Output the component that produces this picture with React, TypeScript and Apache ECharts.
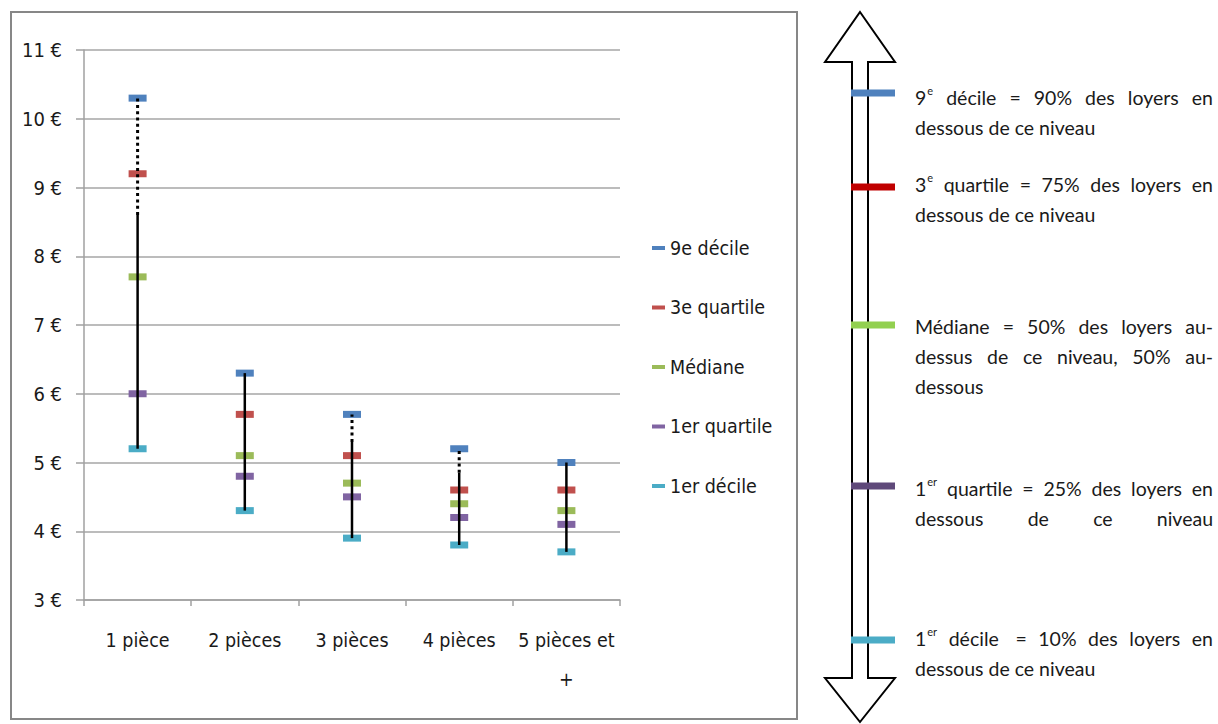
import React, { useEffect, useRef } from 'react';
import * as echarts from 'echarts';

// Loyers au m² par taille de logement
const categories = ['1 pièce', '2 pièces', '3 pièces', '4 pièces', '5 pièces et\n+'];
const decile9 = [10.3, 6.3, 5.7, 5.2, 5.0];
const quartile3 = [9.2, 5.7, 5.1, 4.6, 4.6];
const mediane = [7.7, 5.1, 4.7, 4.4, 4.3];
const quartile1 = [6.0, 4.8, 4.5, 4.2, 4.1];
const decile1 = [5.2, 4.3, 3.9, 3.8, 3.7];
// value where the solid range line stops and the dotted part starts
const solidTop = [8.6, 6.3, 5.3, 4.85, 5.0];

const seriesNames = ['9e décile', '3e quartile', 'Médiane', '1er quartile', '1er décile'];
const seriesValues = [decile9, quartile3, mediane, quartile1, decile1];
const seriesColors = ['#4F81BD', '#C0504D', '#9BBB59', '#8064A2', '#4BACC6'];

// Explanatory panel: a word is either plain text or [base, superscript]
type Word = string | [string, string];
type NoteLine = { words: Word[]; justify: boolean };
const noteColors = ['#4F81BD', '#C00000', '#92D050', '#5F497A', '#4BACC6'];
const notes: NoteLine[][] = [
  [
    { words: [['9', 'e'], 'décile', '=', '90%', 'des', 'loyers', 'en'], justify: true },
    { words: ['dessous', 'de', 'ce', 'niveau'], justify: false },
  ],
  [
    { words: [['3', 'e'], 'quartile', '=', '75%', 'des', 'loyers', 'en'], justify: true },
    { words: ['dessous', 'de', 'ce', 'niveau'], justify: false },
  ],
  [
    { words: ['Médiane', '=', '50%', 'des', 'loyers', 'au-'], justify: true },
    { words: ['dessus', 'de', 'ce', 'niveau,', '50%', 'au-'], justify: true },
    { words: ['dessous'], justify: false },
  ],
  [
    { words: [['1', 'er'], 'quartile', '=', '25%', 'des', 'loyers', 'en'], justify: true },
    { words: ['dessous', 'de', 'ce', 'niveau'], justify: true },
  ],
  [
    { words: [['1', 'er'], 'décile ', '=', '10%', 'des', 'loyers', 'en'], justify: true },
    { words: ['dessous', 'de', 'ce', 'niveau'], justify: false },
  ],
];

const NARROW = '"Liberation Sans Narrow", "DejaVu Sans Condensed", "Liberation Sans", sans-serif';
const NOTE_FONT_FAMILY = 'Lato, "Open Sans", sans-serif';
const NOTE_SIZE = 19.5;
const SUP_SIZE = 11;

const barY = [93, 187, 325, 486, 640];
const textY = [97, 184, 326, 488, 638];
const LINE_H = 30;
const TEXT_LEFT = 915;
const TEXT_RIGHT = 1213;

function buildNotes(): any[] {
  const ctx = document.createElement('canvas').getContext('2d')!;
  const measure = (t: string, size: number) => {
    ctx.font = `${size}px ${NOTE_FONT_FAMILY}`;
    return ctx.measureText(t).width;
  };
  const els: any[] = [];
  notes.forEach((block, bi) => {
    els.push({
      type: 'rect',
      z: 20,
      shape: { x: 851, y: barY[bi] - 3.5, width: 44, height: 7 },
      style: { fill: noteColors[bi] },
    });
    block.forEach((line, li) => {
      const y = textY[bi] + li * LINE_H;
      const widths = line.words.map((w) =>
        typeof w === 'string' ? measure(w, NOTE_SIZE) : measure(w[0], NOTE_SIZE) + 1 + measure(w[1], SUP_SIZE)
      );
      const total = widths.reduce((a, b) => a + b, 0);
      const gap =
        line.justify && line.words.length > 1
          ? (TEXT_RIGHT - TEXT_LEFT - total) / (line.words.length - 1)
          : measure(' ', NOTE_SIZE);
      let x = TEXT_LEFT;
      line.words.forEach((w, wi) => {
        const base = typeof w === 'string' ? w : w[0];
        els.push({
          type: 'text',
          z: 20,
          x,
          y,
          style: {
            text: base,
            font: `${NOTE_SIZE}px ${NOTE_FONT_FAMILY}`,
            fill: '#1a1a1a',
            align: 'left',
            verticalAlign: 'middle',
          },
        });
        if (typeof w !== 'string') {
          els.push({
            type: 'text',
            z: 20,
            x: x + measure(w[0], NOTE_SIZE) + 1,
            y: y - 7,
            style: {
              text: w[1],
              font: `${SUP_SIZE}px ${NOTE_FONT_FAMILY}`,
              fill: '#1a1a1a',
              align: 'left',
              verticalAlign: 'middle',
            },
          });
        }
        x += widths[wi] + gap;
      });
    });
  });
  return els;
}

export default function App() {
  const ref = useRef<HTMLDivElement>(null);

  useEffect(() => {
    if (!ref.current) return;
    const chart = echarts.init(ref.current, null, { renderer: 'svg' });

    const scatterSeries = seriesNames.map((name, k) => ({
      name,
      type: 'scatter',
      data: seriesValues[k],
      symbol: 'rect',
      symbolSize: [18, 7],
      itemStyle: { color: seriesColors[k], opacity: 1 },
      z: 2,
    }));

    const rangeSeries = {
      type: 'custom',
      z: 3,
      data: categories.map((_, i) => [i, decile1[i], solidTop[i], decile9[i]]),
      encode: { x: 0, y: [1, 2, 3] },
      renderItem: (params: any, api: any) => {
        const i = api.value(0);
        const low = api.coord([i, api.value(1)]);
        const mid = api.coord([i, api.value(2)]);
        const high = api.coord([i, api.value(3)]);
        const children: any[] = [
          {
            type: 'line',
            shape: { x1: low[0], y1: low[1], x2: mid[0], y2: mid[1] },
            style: { stroke: '#000', lineWidth: 2.5 },
          },
        ];
        if (api.value(3) > api.value(2)) {
          children.push({
            type: 'line',
            shape: { x1: mid[0], y1: mid[1], x2: high[0], y2: high[1] },
            style: { stroke: '#000', lineWidth: 3, lineDash: [3, 3.3] },
          });
        }
        return { type: 'group', children };
      },
    };

    const arrow = {
      type: 'polygon',
      z: 10,
      shape: {
        points: [
          [860, 12], [895, 62], [868, 62], [868, 678], [895, 678],
          [860, 722], [825, 678], [852, 678], [852, 62], [825, 62],
        ],
      },
      style: { fill: '#fff', stroke: '#000', lineWidth: 2 },
    };

    const frame = {
      type: 'rect',
      z: 0,
      shape: { x: 11, y: 12, width: 786, height: 707 },
      style: { fill: 'none', stroke: '#878787', lineWidth: 2 },
    };

    chart.setOption({
      animation: false,
      backgroundColor: '#fff',
      grid: { left: 84, right: 598, top: 50, bottom: 124 },
      legend: {
        data: seriesNames,
        orient: 'vertical',
        left: 652,
        top: 236,
        padding: 0,
        icon: 'rect',
        itemWidth: 13,
        itemHeight: 4,
        itemGap: 35.5,
        textStyle: { fontFamily: NARROW, fontSize: 19.5, lineHeight: 24, color: '#1a1a1a' },
      },
      xAxis: {
        type: 'category',
        data: categories,
        axisLine: { lineStyle: { color: '#a0a0a0', width: 1.5 } },
        axisTick: { show: true, length: 6, lineStyle: { color: '#a0a0a0', width: 1.5 } },
        axisLabel: {
          fontFamily: NARROW,
          fontSize: 19.5,
          lineHeight: 39,
          color: '#1a1a1a',
          margin: 21,
          interval: 0,
        },
      },
      yAxis: {
        type: 'value',
        min: 3,
        max: 11,
        interval: 1,
        axisLine: { show: true, lineStyle: { color: '#a0a0a0', width: 1.5 } },
        axisTick: { show: true, length: 8, lineStyle: { color: '#a0a0a0', width: 1.5 } },
        splitLine: { lineStyle: { color: '#a6a6a6', width: 1.5 } },
        axisLabel: {
          formatter: '{value} €',
          fontFamily: NARROW,
          fontSize: 20,
          color: '#1a1a1a',
          margin: 22,
        },
      },
      series: [...scatterSeries, rangeSeries],
      graphic: [frame, arrow, ...buildNotes()],
    });

    return () => chart.dispose();
  }, []);

  return (
    <div
      ref={ref}
      style={{ position: 'fixed', left: 0, top: 0, width: 1218, height: 724, background: '#fff' }}
    />
  );
}
